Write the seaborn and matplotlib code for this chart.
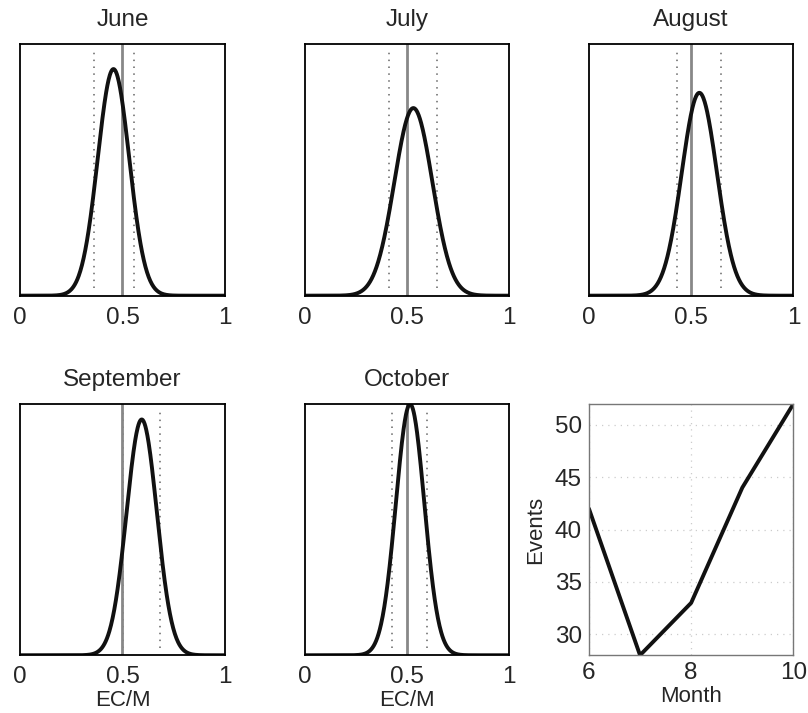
import numpy as np
import pandas as pd
import matplotlib
matplotlib.use("Agg")
import matplotlib.pyplot as plt
import seaborn as sns

# donnees
months = ["June", "July", "August", "September", "October"]
means = [0.456, 0.532, 0.540, 0.594, 0.516]
sds = [0.077, 0.093, 0.086, 0.074, 0.0695]
low_bounds = [0.361, 0.413, 0.432, 0.501, 0.427]
high_bounds = [0.554, 0.647, 0.645, 0.682, 0.599]
ref_value = 0.5
dens_top = 5.75

month_num = [6, 7, 8, 9, 10]
events = [42, 28, 33, 44, 52]

sns.set_theme(style="white")
plt.rcParams['font.family'] = ['Liberation Sans', 'DejaVu Sans']

fig, axes = plt.subplots(2, 3, figsize=(8.08, 7.13), dpi=100)
fig.subplots_adjust(left=0.025, right=0.982, bottom=0.081, top=0.938,
                    wspace=0.39, hspace=0.43)
axes = axes.ravel()

x = np.linspace(0, 1, 501)

for i, name in enumerate(months):
    ax = axes[i]
    dens = np.exp(-0.5 * ((x - means[i]) / sds[i]) ** 2) / (sds[i] * np.sqrt(2 * np.pi))
    df = pd.DataFrame({"x": x, "density": dens})
    ax.axvline(low_bounds[i], ymin=0.03, ymax=0.97, color="#666666", lw=1.1, ls=(0, (1, 3.5)))
    ax.axvline(high_bounds[i], ymin=0.03, ymax=0.97, color="#666666", lw=1.1, ls=(0, (1, 3.5)))
    ax.axvline(ref_value, color="#888888", lw=2.0)
    sns.lineplot(data=df, x="x", y="density", ax=ax, color="#111111", lw=2.8)
    ax.set_xlim(0, 1)
    ax.set_ylim(0, dens_top)
    ax.set_xticks([0, 0.5, 1])
    ax.set_xticklabels(["0", "0.5", "1"])
    ax.set_yticks([])
    ax.set_ylabel("")
    ax.set_xlabel("EC/M" if i >= 3 else "", fontsize=16, labelpad=1)
    ax.set_title(name, fontsize=17.5, pad=13)
    ax.tick_params(axis="x", labelsize=17.5, length=0, pad=8)
    for s in ax.spines.values():
        s.set_color("black")
        s.set_linewidth(1.3)

# Evenements par mois
ax = axes[5]
ev = pd.DataFrame({"Month": month_num, "Events": events})
sns.lineplot(data=ev, x="Month", y="Events", ax=ax, color="#111111", lw=2.8)
ax.set_xlim(6, 10)
ax.set_ylim(28, 52)
ax.set_xticks([6, 8, 10])
ax.set_yticks([30, 35, 40, 45, 50])
ax.grid(True, color="#cccccc", ls=(0, (1, 4)), lw=0.9)
ax.tick_params(axis="both", labelsize=17.5, direction="in", length=3, color="#888888", pad=5)
ax.set_xlabel("Month", fontsize=16, labelpad=1)
ax.set_ylabel("Events", fontsize=16, labelpad=6)
for s in ax.spines.values():
    s.set_color("#777777")
    s.set_linewidth(1.0)

fig.savefig("out.png", dpi=100)
